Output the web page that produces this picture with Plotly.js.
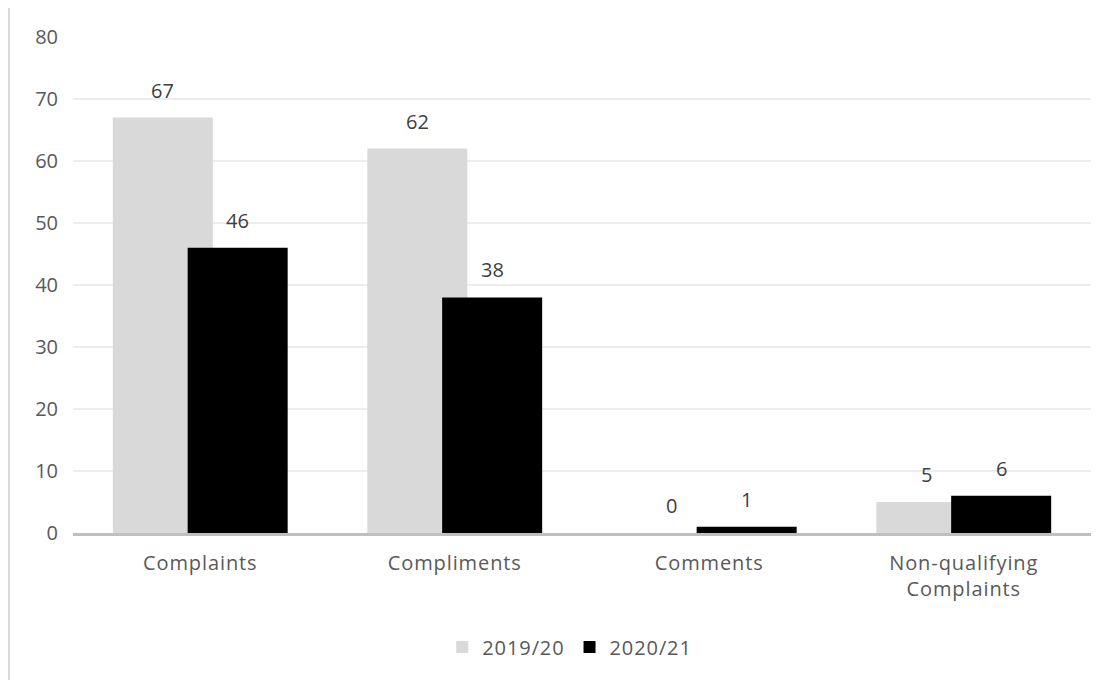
<!DOCTYPE html>
<html>
<head>
<meta charset="utf-8">
<script src="https://cdn.plot.ly/plotly-3.0.1.min.js"></script>
<style>
  html, body { margin: 0; padding: 0; background: #ffffff; }
  #wrap { position: relative; width: 1115px; height: 680px; }
  #border { position: absolute; left: 8px; top: 8px; width: 2px; height: 672px; background: #D9D9D9; }
  #chart { position: absolute; left: 0; top: 0; width: 1115px; height: 680px; }
  .xtick text, .legendtext { letter-spacing: 0.9px; }
</style>
</head>
<body>
<div id="wrap">
  <div id="chart"></div>
  <div id="border"></div>
</div>
<script>
const categories = ["Complaints", "Compliments", "Comments", "Non-qualifying<br>Complaints"];
const seriesNames = ["2019/20", "2020/21"];
const values2019 = [67, 62, 0, 5];
const values2020 = [46, 38, 1, 6];
const seriesColors = ["#D9D9D9", "#000000"];

const barWidth = 0.393;
const centerShift = [-0.147, 0.147];
const allValues = [values2019, values2020];

const traces = allValues.map((vals, s) => ({
  type: "bar",
  name: seriesNames[s],
  x: categories,
  y: vals,
  width: barWidth,
  offset: centerShift[s] - barWidth / 2,
  marker: { color: seriesColors[s], line: { width: 0 } },
  hoverinfo: "x+y+name"
}));

const annotations = [];
allValues.forEach((vals, s) => {
  vals.forEach((v, i) => {
    annotations.push({
      x: i + centerShift[s],
      y: v,
      xref: "x",
      yref: "y",
      text: String(v),
      showarrow: false,
      yanchor: "bottom",
      yshift: 12,
      font: { family: "Open Sans, sans-serif", size: 20, color: "#404040" }
    });
  });
});

const layout = {
  width: 1115,
  height: 680,
  margin: { l: 73, r: 24, t: 37, b: 147 },
  paper_bgcolor: "#ffffff",
  plot_bgcolor: "#ffffff",
  barmode: "overlay",
  showlegend: true,
  font: { family: "Open Sans, sans-serif", size: 20, color: "#595959" },
  xaxis: {
    type: "category",
    showgrid: false,
    showline: true,
    linecolor: "#BFBFBF",
    linewidth: 3,
    ticks: "",
    ticklabelstandoff: 10,
    tickfont: { size: 20, color: "#595959" },
    zeroline: false,
    fixedrange: true
  },
  yaxis: {
    range: [0, 80],
    dtick: 10,
    tick0: 0,
    showgrid: true,
    gridcolor: "#EDEDED",
    gridwidth: 1.5,
    zeroline: false,
    showline: false,
    ticks: "",
    ticklabelstandoff: 14,
    tickfont: { size: 20, color: "#595959" },
    fixedrange: true
  },
  legend: {
    orientation: "h",
    x: 0.488,
    xanchor: "center",
    y: -0.23,
    yanchor: "middle",
    font: { size: 20, color: "#595959" },
    bgcolor: "rgba(0,0,0,0)"
  },
  annotations: annotations
};

Plotly.newPlot("chart", traces, layout, { displayModeBar: false, staticPlot: true });
</script>
</body>
</html>
